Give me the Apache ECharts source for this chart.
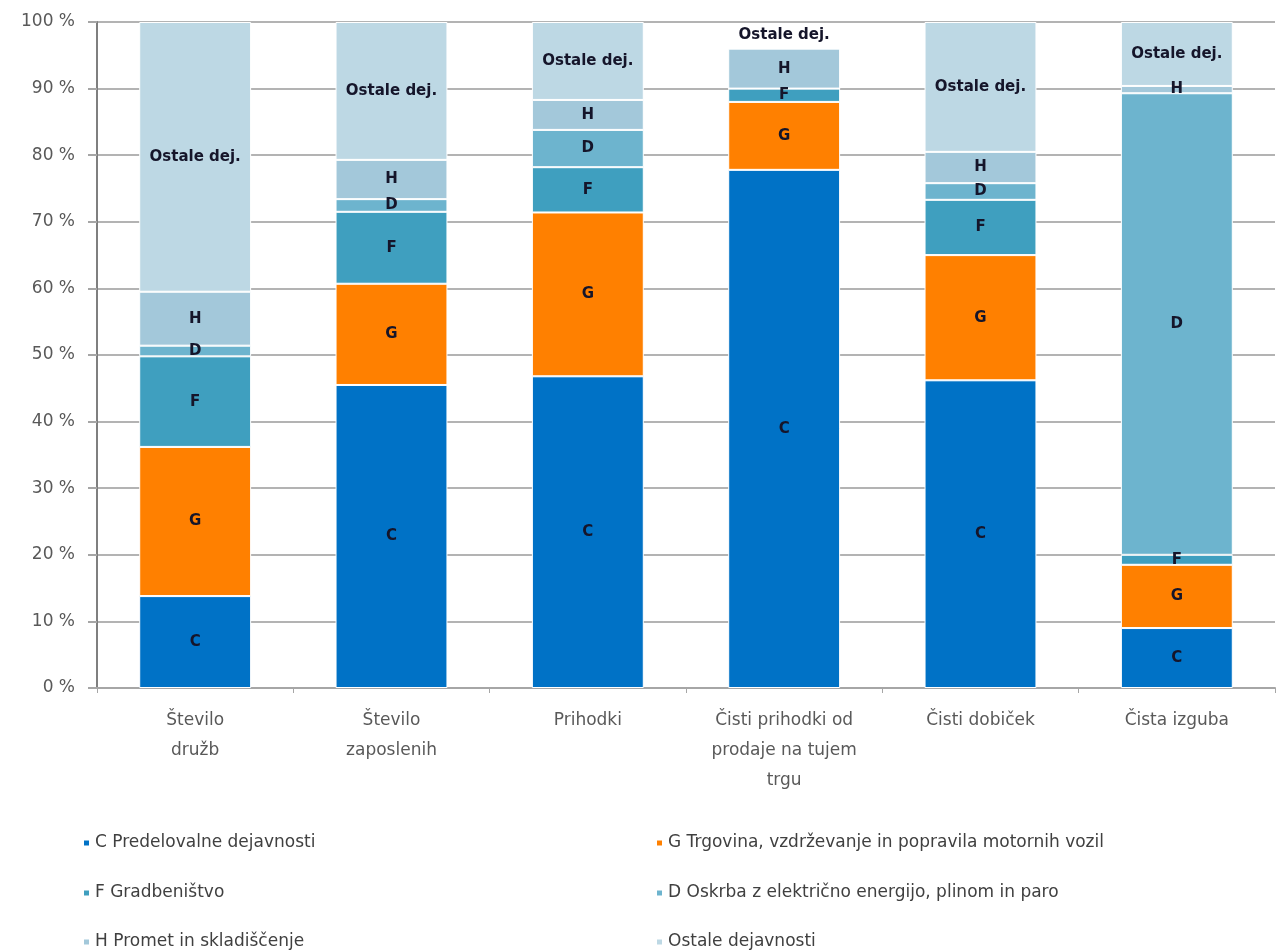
<!DOCTYPE html>
<html>
<head>
<meta charset="utf-8">
<script src="https://cdn.jsdelivr.net/npm/echarts@6/dist/echarts.min.js"></script>
<style>
html,body{margin:0;padding:0;background:#fff;}
#chart{width:1279px;height:952px;}
</style>
</head>
<body>
<div id="chart"></div>
<script>
const categories = ['Število\ndružb', 'Število\nzaposlenih', 'Prihodki', 'Čisti prihodki od\nprodaje na tujem\ntrgu', 'Čisti dobiček', 'Čista izguba'];
const seriesNames = ['C Predelovalne dejavnosti', 'G Trgovina, vzdrževanje in popravila motornih vozil', 'F Gradbeništvo', 'D Oskrba z električno energijo, plinom in paro', 'H Promet in skladiščenje', 'Ostale dejavnosti'];
const shortLabels = ['C', 'G', 'F', 'D', 'H', 'Ostale dej.'];
const valuesC = [13.8, 45.5, 46.8, 77.8, 46.2, 9.0];
const valuesG = [22.4, 15.2, 24.6, 10.2, 18.8, 9.5];
const valuesF = [13.6, 10.8, 6.8, 2.0, 8.3, 1.5];
const valuesD = [1.6, 1.9, 5.6, 0, 2.5, 69.3];
const valuesH = [8.1, 5.9, 4.5, 6.0, 4.7, 1.1];
const valuesOstale = [40.5, 20.7, 11.7, 4.0, 19.5, 9.6];
const yTicks = ['0 %', '10 %', '20 %', '30 %', '40 %', '50 %', '60 %', '70 %', '80 %', '90 %', '100 %'];

const colors = ['#0072C6', '#FF8000', '#3F9FBF', '#6DB4CE', '#A3C8DA', '#BDD8E4'];
const allValues = [valuesC, valuesG, valuesF, valuesD, valuesH, valuesOstale];

const series = allValues.map((vals, i) => ({
  name: seriesNames[i],
  type: 'bar',
  stack: 'total',
  barWidth: '57%',
  data: vals.map((v, j) => {
    // the "Ostale" part of the 4th column is not filled in the original
    if (i === 5 && j === 3) return { value: v, itemStyle: { color: 'rgba(0,0,0,0)', borderColor: 'rgba(0,0,0,0)' } };
    return v;
  }),
  itemStyle: { color: colors[i], borderColor: '#ffffff', borderWidth: 1 },
  label: {
    show: true,
    position: 'inside',
    formatter: p => (p.value > 0 ? shortLabels[i] : ''),
    color: '#15152a',
    fontFamily: 'DejaVu Sans',
    fontWeight: 'bold',
    fontSize: 15
  },
  emphasis: { disabled: true }
}));

const legendText = { color: '#404040', fontFamily: 'DejaVu Sans', fontSize: 17, lineHeight: 20 };
const legendRowsTop = [833, 883, 932];
const legendColsLeft = [82, 655];
const legendOrder = [[0, 1], [2, 3], [4, 5]];
const legends = [];
legendOrder.forEach((row, r) => {
  row.forEach((si, c) => {
    legends.push({
      data: [seriesNames[si]],
      left: legendColsLeft[c], top: legendRowsTop[r],
      itemWidth: 7, itemHeight: 7, icon: 'rect', itemGap: 6,
      textStyle: legendText, selectedMode: false, padding: 0
    });
  });
});

const chart = echarts.init(document.getElementById('chart'), null, { renderer: 'canvas' });
chart.setOption({
  animation: false,
  color: colors,
  grid: { left: 97, right: 4, top: 22, bottom: 264, containLabel: false },
  legend: legends,
  xAxis: {
    type: 'category',
    data: categories,
    axisLine: { show: true, lineStyle: { color: '#a6a6a6', width: 2 } },
    axisTick: { show: true, alignWithLabel: false, length: 5, lineStyle: { color: '#a6a6a6' } },
    axisLabel: { color: '#595959', fontFamily: 'DejaVu Sans', fontSize: 17, lineHeight: 30, margin: 18, interval: 0 }
  },
  yAxis: {
    type: 'value',
    min: 0, max: 100, interval: 10,
    axisLine: { show: true, lineStyle: { color: '#7f7f7f', width: 2 } },
    axisTick: { show: true, length: 9, lineStyle: { color: '#a6a6a6', width: 2 } },
    axisLabel: {
      color: '#595959', fontFamily: 'DejaVu Sans', fontSize: 17, margin: 22,
      formatter: v => yTicks[Math.round(v / 10)]
    },
    splitLine: { show: true, lineStyle: { color: '#b3b3b3', width: 2 } }
  },
  series: series
});
</script>
</body>
</html>
